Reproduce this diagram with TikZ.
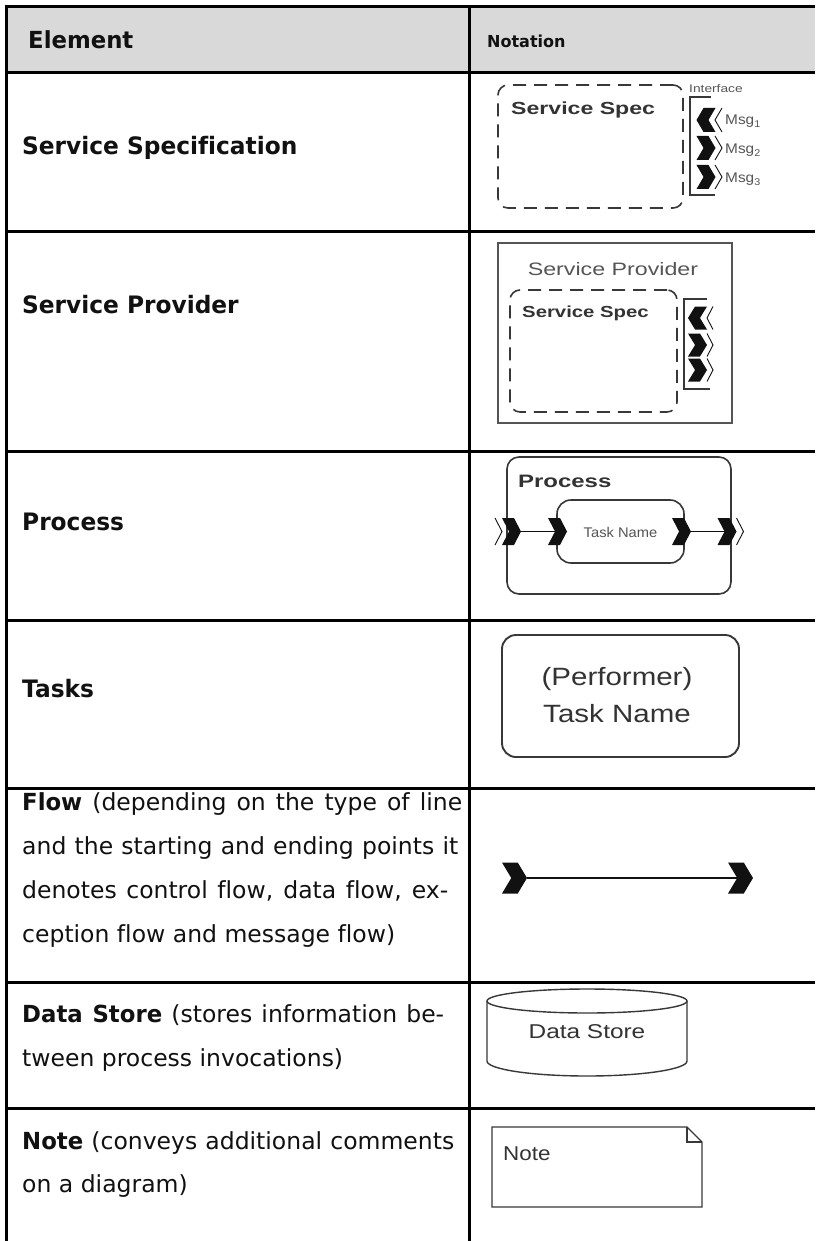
\documentclass[tikz,border=0pt]{standalone}
\usepackage{fontspec}
\usepackage{graphicx}
\setmainfont{DejaVu Sans}[Ligatures=CommonOff, BoldFeatures={FakeStretch=0.97}]
\newfontfamily\arialf{Liberation Sans}
\newcommand\fsz[1]{\fontsize{#1}{#1}\selectfont}
\newcommand\hs[2]{\scalebox{#1}[1]{#2}}
\definecolor{hdrgray}{HTML}{D9D9D9}
\definecolor{ink}{HTML}{111111}
\definecolor{dline}{HTML}{383838}
\definecolor{ntxt}{HTML}{333333}
\definecolor{lgtxt}{HTML}{555555}
\tikzset{
  cw/.store in=\cw, ch/.store in=\ch, cw=19, ch=24,
  grid/.style={line width=3pt, draw=black},
  lbl/.style={anchor=base west, inner sep=0pt, font=\fsz{24}\bfseries, text=ink},
  hdr/.style={anchor=base west, inner sep=0pt, text=ink},
  body/.style={anchor=base west, inner sep=0pt, font=\fsz{23.5}, text=ink},
  ntext/.style={inner sep=0pt, text=ntxt},
  dbox/.style={draw=dline, line width=1.6pt, dash pattern=on 13pt off 8pt,
    rounded corners=10pt, inner sep=0pt, outer sep=0pt},
  sbox/.style={draw=dline, line width=1.6pt, inner sep=0pt, outer sep=0pt},
  flowline/.style={draw=ink, line width=1.4pt},
  chevR/.pic={
    \fill[ink] ({-\cw/2},{-\ch/2}) -- ({\cw/2-0.37*\cw},{-\ch/2}) -- ({\cw/2},0)
      -- ({\cw/2-0.37*\cw},{\ch/2}) -- ({-\cw/2},{\ch/2}) -- ({-\cw/2+0.37*\cw},0) -- cycle;
    \coordinate (-tip) at ({\cw/2},0);
    \coordinate (-tail) at ({-\cw/2+0.37*\cw},0);
  },
  chevL/.pic={
    \fill[ink] ({\cw/2},{-\ch/2}) -- ({-\cw/2+0.37*\cw},{-\ch/2}) -- ({-\cw/2},0)
      -- ({-\cw/2+0.37*\cw},{\ch/2}) -- ({\cw/2},{\ch/2}) -- ({\cw/2-0.37*\cw},0) -- cycle;
    \coordinate (-tip) at ({-\cw/2},0);
    \coordinate (-tail) at ({\cw/2-0.37*\cw},0);
  },
  openR/.pic={
    \draw[ink, line width=0.9pt] ({-\cw/2},{-\ch/2}) -- ({\cw/2},0) -- ({-\cw/2},{\ch/2});
  },
  openL/.pic={
    \draw[ink, line width=0.9pt] ({\cw/2},{-\ch/2}) -- ({-\cw/2},0) -- ({\cw/2},{\ch/2});
  },
}
\begin{document}
\begin{tikzpicture}[x=1pt,y=-1pt]
\useasboundingbox (0,0) rectangle (815,1241);
\fill[white] (0,0) rectangle (815,1241);
% header
\fill[hdrgray] (6,7) rectangle (815,73);
% table grid
\draw[grid] (4.5,7) -- (815,7);
\foreach \yy in {73,232,451,620,788,982,1108}{\draw[grid] (4.5,\yy) -- (815,\yy);}
\draw[grid] (6,5.5) -- (6,1241);
\draw[grid] (469,5.5) -- (469,1241);

% ---------- left column ----------
\node[hdr, font=\fsz{23.5}\bfseries] (hElem) at (28,49) {Element};
\node[hdr, font=\fsz{16.5}\bfseries] (hNot) at (487,48) {Notation};
\node[lbl] (lSS) at (22,155) {Service Specification};
\node[lbl] (lSP) at (22,313) {Service Provider};
\node[lbl] (lPr) at (22,530) {Process};
\node[lbl] (lTa) at (22,697) {Tasks};
\node[body] (fl1) at (22,810) {\makebox[440pt][s]{\textbf{Flow} (depending on the type of line}};
\node[body] (fl2) at (22,854) {\makebox[436pt][s]{and the starting and ending points it}};
\node[body] (fl3) at (22,898) {\makebox[426pt][s]{denotes control flow, data flow, ex-}};
\node[body] (fl4) at (22,942) {ception flow and message flow)};
\node[body] (ds1) at (22,1022) {\makebox[422pt][s]{\textbf{Data Store} (stores information be-}};
\node[body] (ds2) at (22,1066) {tween process invocations)};
\node[body] (nt1) at (22,1149) {\makebox[432pt][s]{\textbf{Note} (conveys additional comments}};
\node[body] (nt2) at (22,1192) {on a diagram)};

% ---------- Service Specification ----------
\node[dbox, minimum width=185pt, minimum height=123pt] (ss1) at (590.5,146.5) {};
\node[ntext, anchor=base west, font=\arialf\bfseries\fsz{17.5}] (ss1t) at (511,115) {\hs{1.32}{Service Spec}};
\node[ntext, anchor=base west, text=lgtxt, font=\arialf\fsz{11}] (ifc) at (689,93) {\hs{1.25}{Interface}};
\draw[dline, line width=1.3pt] (711,97) -- (690,97) -- (690,195) -- (715,195);
\pic[cw=19,ch=24] (m1) at (706,120) {chevL};
\pic[cw=7,ch=24] (o1) at (718.5,120) {openL};
\pic[cw=19,ch=24] (m2) at (706,148) {chevR};
\pic[cw=7,ch=24] (o2) at (718.5,148) {openR};
\pic[cw=19,ch=24] (m3) at (706,177) {chevR};
\pic[cw=7,ch=24] (o3) at (718.5,177) {openR};
\node[ntext, anchor=base west, text=lgtxt, font=\arialf\fsz{14}] (g1) at (725,125) {\hs{1.1}{Msg\textsubscript{1}}};
\node[ntext, anchor=base west, text=lgtxt, font=\arialf\fsz{14}] (g2) at (725,154) {\hs{1.1}{Msg\textsubscript{2}}};
\node[ntext, anchor=base west, text=lgtxt, font=\arialf\fsz{14}] (g3) at (725,183) {\hs{1.1}{Msg\textsubscript{3}}};

% ---------- Service Provider ----------
\node[sbox, draw=lgtxt, minimum width=234pt, minimum height=180pt] (sp) at (615,333) {};
\node[ntext, anchor=base, text=lgtxt, font=\arialf\fsz{18}] (spt) at (613,275) {\hs{1.29}{Service Provider}};
\node[dbox, minimum width=167pt, minimum height=122pt] (ss2) at (593.5,351) {};
\node[ntext, anchor=base west, font=\arialf\bfseries\fsz{16}] (ss2t) at (522,317) {\hs{1.27}{Service Spec}};
\draw[dline, line width=1.3pt] (707,299) -- (684,299) -- (684,389) -- (710,389);
\pic[cw=19,ch=23] (p1) at (697.5,318) {chevL};
\pic[cw=6,ch=23] (q1) at (710,318) {openL};
\pic[cw=19,ch=23] (p2) at (697.5,345) {chevR};
\pic[cw=6,ch=23] (q2) at (710,345) {openR};
\pic[cw=19,ch=23] (p3) at (697.5,370) {chevR};
\pic[cw=6,ch=23] (q3) at (710,370) {openR};

% ---------- Process ----------
\node[sbox, rounded corners=12pt, minimum width=224pt, minimum height=137pt] (proc) at (619,525.5) {};
\node[ntext, anchor=base west, font=\arialf\bfseries\fsz{18}] (proct) at (518,487) {\hs{1.33}{Process}};
\node[sbox, rounded corners=14pt, minimum width=127pt, minimum height=63pt] (task3) at (620.5,531.5) {};
\node[ntext, anchor=base, text=lgtxt, font=\arialf\fsz{14}] (task3t) at (620.5,537) {\hs{1.05}{Task Name}};
\pic[cw=7,ch=27] (ka0) at (498.5,531.5) {openR};
\pic[cw=19,ch=27] (ka) at (511.5,531.5) {chevR};
\pic[cw=19,ch=27] (kb) at (557.5,531.5) {chevR};
\pic[cw=19,ch=27] (kc) at (681.5,531.5) {chevR};
\pic[cw=19,ch=27] (kd) at (727,531.5) {chevR};
\pic[cw=7,ch=27] (kd0) at (740,531.5) {openR};
\draw[flowline] (ka-tip) -- (kb-tail);
\draw[flowline] (kc-tip) -- (kd-tail);

% ---------- Tasks ----------
\node[sbox, line width=1.9pt, rounded corners=14pt, minimum width=237pt, minimum height=122pt] (task4) at (620.5,696) {};
\node[ntext, anchor=base, font=\arialf\fsz{25}] (perf) at (617,685) {\hs{1.18}{(Performer)}};
\node[ntext, anchor=base, font=\arialf\fsz{25}] (tnm) at (617,722) {\hs{1.18}{Task Name}};

% ---------- Flow ----------
\pic[cw=25,ch=31] (fa) at (514.5,878) {chevR};
\pic[cw=25,ch=31] (fb) at (740.5,878) {chevR};
\draw[flowline, line width=1.1pt] (fa-tip) -- (fb-tail);

% ---------- Data Store ----------
\draw[dline, line width=1.4pt] (487,1001) -- (487,1061)
   arc[start angle=180, end angle=360, x radius=100pt, y radius=15pt] -- (687,1001);
\draw[dline, line width=1.4pt] (587,1001) ellipse [x radius=100pt, y radius=12pt];
\node[ntext, anchor=base, font=\arialf\fsz{20}] (dst) at (587,1038) {\hs{1.22}{Data Store}};

% ---------- Note ----------
\draw[dline, line width=1.4pt] (492,1127) -- (687,1127) -- (702,1142) -- (702,1207) -- (492,1207) -- cycle;
\draw[dline, line width=1.2pt] (687,1127) -- (687,1142) -- (702,1142);
\node[ntext, anchor=base west, font=\arialf\fsz{20}] (nte) at (503,1160) {\hs{1.12}{Note}};
\end{tikzpicture}
\end{document}
